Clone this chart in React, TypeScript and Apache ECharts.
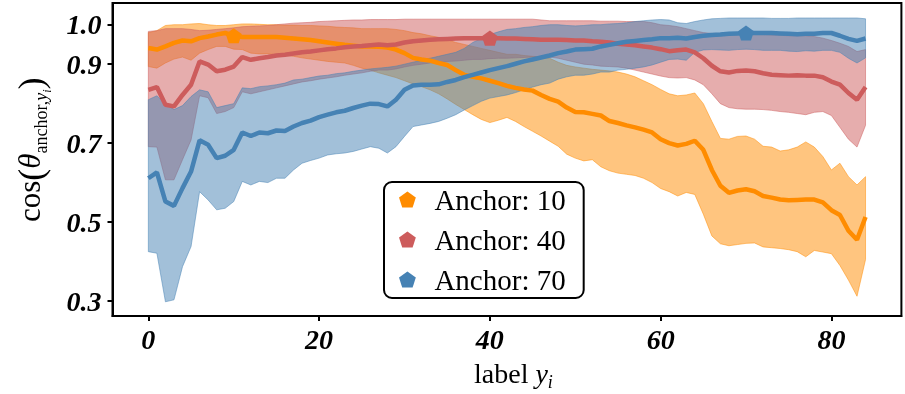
import React, { useEffect, useRef } from 'react';
import * as echarts from 'echarts';

// ---------- data ----------
const xValues = Array.from({ length: 85 }, (_, i) => i);

const orangeMean = [
  0.941, 0.937, 0.945, 0.954, 0.960, 0.958, 0.966, 0.970, 0.975, 0.979,
  0.972, 0.969, 0.969, 0.969, 0.969, 0.969, 0.967, 0.965, 0.963, 0.961,
  0.958, 0.955, 0.952, 0.949, 0.947, 0.945, 0.945, 0.944, 0.942, 0.937,
  0.928, 0.916, 0.912, 0.909, 0.903, 0.898, 0.885, 0.873, 0.868, 0.864,
  0.858, 0.852, 0.845, 0.840, 0.836, 0.833, 0.822, 0.812, 0.805, 0.790,
  0.779, 0.778, 0.774, 0.770, 0.756, 0.751, 0.745, 0.740, 0.734, 0.727,
  0.710, 0.700, 0.694, 0.698, 0.706, 0.683, 0.632, 0.592, 0.574, 0.580,
  0.583, 0.578, 0.566, 0.562, 0.557, 0.555, 0.556, 0.557, 0.557, 0.550,
  0.530, 0.518, 0.478, 0.455, 0.513,
];
const orangeUpper = [
  0.980, 0.985, 0.998, 1.000, 1.000, 1.002, 1.003, 1.000, 0.998, 0.998,
  1.000, 1.002, 1.002, 1.001, 1.000, 1.000, 0.999, 0.999, 0.998, 0.998,
  0.997, 0.996, 0.994, 0.993, 0.992, 0.990, 0.990, 0.990, 0.990, 0.988,
  0.985, 0.980, 0.977, 0.972, 0.968, 0.962, 0.955, 0.950, 0.945, 0.940,
  0.935, 0.930, 0.925, 0.925, 0.922, 0.920, 0.918, 0.915, 0.905, 0.897,
  0.893, 0.890, 0.887, 0.885, 0.883, 0.880, 0.875, 0.868, 0.858, 0.848,
  0.836, 0.825, 0.820, 0.822, 0.827, 0.800, 0.755, 0.712, 0.710, 0.717,
  0.718, 0.710, 0.692, 0.690, 0.680, 0.683, 0.690, 0.703, 0.690, 0.666,
  0.632, 0.649, 0.615, 0.594, 0.615,
];
const orangeLower = [
  0.894, 0.890, 0.903, 0.913, 0.918, 0.910, 0.928, 0.937, 0.945, 0.945,
  0.938, 0.937, 0.928, 0.926, 0.926, 0.924, 0.922, 0.920, 0.916, 0.913,
  0.910, 0.907, 0.905, 0.903, 0.897, 0.890, 0.885, 0.878, 0.872, 0.866,
  0.858, 0.850, 0.843, 0.835, 0.825, 0.812, 0.798, 0.785, 0.772, 0.760,
  0.752, 0.758, 0.765, 0.755, 0.742, 0.730, 0.718, 0.705, 0.692, 0.672,
  0.662, 0.655, 0.658, 0.640, 0.630, 0.624, 0.621, 0.618, 0.611, 0.600,
  0.585, 0.577, 0.566, 0.575, 0.570, 0.520, 0.465, 0.445, 0.440, 0.443,
  0.446, 0.447, 0.437, 0.435, 0.433, 0.430, 0.425, 0.412, 0.428, 0.424,
  0.420, 0.390, 0.353, 0.312, 0.405,
];

const redMean = [
  0.835, 0.842, 0.797, 0.793, 0.822, 0.848, 0.907, 0.899, 0.882, 0.886,
  0.894, 0.918, 0.911, 0.915, 0.918, 0.922, 0.924, 0.927, 0.930, 0.932,
  0.935, 0.938, 0.940, 0.943, 0.945, 0.946, 0.948, 0.950, 0.948, 0.950,
  0.955, 0.958, 0.960, 0.962, 0.963, 0.964, 0.965, 0.966, 0.966, 0.966,
  0.966, 0.966, 0.965, 0.965, 0.964, 0.963, 0.962, 0.962, 0.962, 0.961,
  0.960, 0.960, 0.958, 0.957, 0.955, 0.952, 0.950, 0.948, 0.945, 0.942,
  0.938, 0.933, 0.935, 0.937, 0.930, 0.915, 0.896, 0.882, 0.879, 0.883,
  0.884, 0.882, 0.877, 0.873, 0.872, 0.871, 0.872, 0.871, 0.871, 0.867,
  0.856, 0.848, 0.827, 0.810, 0.842,
];
const redUpper = [
  0.983, 0.985, 0.990, 0.990, 0.990, 0.988, 0.985, 0.986, 0.988, 0.990,
  0.992, 0.995, 0.996, 0.997, 0.998, 1.000, 1.002, 1.004, 1.005, 1.006,
  1.008, 1.009, 1.010, 1.011, 1.012, 1.012, 1.013, 1.013, 1.013, 1.013,
  1.014, 1.014, 1.014, 1.014, 1.014, 1.014, 1.014, 1.014, 1.014, 1.014,
  1.014, 1.014, 1.014, 1.014, 1.014, 1.014, 1.012, 1.010, 1.010, 1.010,
  1.010, 1.010, 1.010, 1.009, 1.009, 1.009, 1.008, 1.008, 1.008, 1.005,
  1.000, 0.998, 0.995, 0.990, 0.985, 0.980, 0.978, 0.978, 0.977, 0.976,
  0.975, 0.975, 0.975, 0.974, 0.973, 0.972, 0.972, 0.972, 0.970, 0.966,
  0.960, 0.953, 0.945, 0.932, 0.937,
];
const redLower = [
  0.691, 0.690, 0.607, 0.607, 0.658, 0.708, 0.820, 0.815, 0.775, 0.780,
  0.790, 0.830, 0.825, 0.830, 0.835, 0.840, 0.845, 0.850, 0.855, 0.858,
  0.862, 0.865, 0.868, 0.872, 0.875, 0.878, 0.882, 0.885, 0.885, 0.888,
  0.893, 0.897, 0.900, 0.903, 0.905, 0.907, 0.908, 0.910, 0.912, 0.912,
  0.914, 0.915, 0.915, 0.916, 0.917, 0.918, 0.918, 0.918, 0.915, 0.910,
  0.905, 0.900, 0.898, 0.895, 0.894, 0.893, 0.890, 0.885, 0.880, 0.875,
  0.870, 0.866, 0.865, 0.866, 0.860, 0.848, 0.825, 0.800, 0.790, 0.787,
  0.786, 0.786, 0.785, 0.783, 0.780, 0.778, 0.775, 0.772, 0.778, 0.780,
  0.770, 0.740, 0.710, 0.690, 0.745,
];

const blueMean = [
  0.611, 0.626, 0.552, 0.541, 0.586, 0.628, 0.707, 0.696, 0.662, 0.668,
  0.683, 0.727, 0.718, 0.727, 0.725, 0.732, 0.731, 0.742, 0.751, 0.757,
  0.766, 0.772, 0.778, 0.782, 0.789, 0.795, 0.800, 0.799, 0.793, 0.810,
  0.835, 0.846, 0.848, 0.848, 0.849, 0.855, 0.860, 0.867, 0.873, 0.879,
  0.885, 0.890, 0.895, 0.901, 0.907, 0.912, 0.917, 0.922, 0.928, 0.932,
  0.937, 0.938, 0.939, 0.945, 0.949, 0.953, 0.957, 0.959, 0.961, 0.963,
  0.966, 0.966, 0.967, 0.965, 0.969, 0.972, 0.974, 0.975, 0.977, 0.978,
  0.979, 0.979, 0.979, 0.979, 0.978, 0.977, 0.976, 0.977, 0.977, 0.979,
  0.979, 0.972, 0.964, 0.959, 0.965,
];
const blueUpper = [
  0.810, 0.820, 0.800, 0.785, 0.795, 0.818, 0.835, 0.830, 0.790, 0.795,
  0.800, 0.840, 0.838, 0.843, 0.845, 0.848, 0.852, 0.860, 0.862, 0.866,
  0.870, 0.872, 0.876, 0.878, 0.882, 0.885, 0.888, 0.890, 0.892, 0.895,
  0.900, 0.905, 0.910, 0.915, 0.920, 0.925, 0.930, 0.940, 0.955, 0.965,
  0.975, 0.982, 0.988, 0.990, 0.993, 0.995, 0.998, 1.000, 1.000, 0.998,
  0.997, 0.998, 1.000, 1.000, 1.002, 1.003, 1.005, 1.008, 1.010, 1.012,
  1.013, 1.012, 1.005, 1.003, 1.008, 1.012, 1.015, 1.016, 1.017, 1.017,
  1.017, 1.017, 1.017, 1.016, 1.016, 1.016, 1.017, 1.017, 1.017, 1.017,
  1.017, 1.017, 1.017, 1.017, 1.015,
];
const blueLower = [
  0.425, 0.421, 0.298, 0.303, 0.387, 0.438, 0.577, 0.556, 0.531, 0.535,
  0.552, 0.603, 0.594, 0.603, 0.600, 0.611, 0.611, 0.632, 0.649, 0.656,
  0.662, 0.670, 0.673, 0.675, 0.679, 0.685, 0.691, 0.687, 0.675, 0.691,
  0.717, 0.742, 0.746, 0.750, 0.755, 0.763, 0.772, 0.784, 0.795, 0.806,
  0.814, 0.818, 0.822, 0.828, 0.835, 0.842, 0.848, 0.852, 0.862, 0.868,
  0.872, 0.872, 0.875, 0.880, 0.880, 0.885, 0.887, 0.890, 0.893, 0.898,
  0.905, 0.912, 0.913, 0.910, 0.930, 0.936, 0.937, 0.936, 0.935, 0.937,
  0.938, 0.937, 0.935, 0.935, 0.935, 0.933, 0.932, 0.934, 0.933, 0.935,
  0.935, 0.930, 0.915, 0.903, 0.916,
];

const xTicks = [0, 20, 40, 60, 80];
const yTicks = [0.3, 0.5, 0.7, 0.9, 1.0];
const anchors = [10, 40, 70];
const seriesNames = ['Anchor: 10', 'Anchor: 40', 'Anchor: 70'];
const colors = ['#FF8C00', '#CD5C5C', '#4682B4'];

const PENT = 'path://M0,-1L0.9511,-0.309L0.5878,0.809L-0.5878,0.809L-0.9511,-0.309Z';
const SERIF = 'Liberation Serif';

export default function App() {
  const ref = useRef<HTMLDivElement>(null);

  useEffect(() => {
    if (!ref.current) return;
    const chart = echarts.init(ref.current, undefined, { renderer: 'svg' });

    const bands = [
      { name: seriesNames[0], mean: orangeMean, upper: orangeUpper, lower: orangeLower, color: colors[0], anchor: anchors[0] },
      { name: seriesNames[1], mean: redMean, upper: redUpper, lower: redLower, color: colors[1], anchor: anchors[1] },
      { name: seriesNames[2], mean: blueMean, upper: blueUpper, lower: blueLower, color: colors[2], anchor: anchors[2] },
    ];

    const series: any[] = [];
    bands.forEach((b, k) => {
      series.push({
        type: 'custom', name: 'band' + k, silent: true, z: 2,
        data: xValues.map((x, i) => [x, b.lower[i], b.upper[i]]),
        encode: { x: 0, y: [1, 2] },
        renderItem: (params: any, api: any) => {
          if (params.dataIndex !== 0) return null;
          const top = xValues.map((x, i) => api.coord([x, b.upper[i]]));
          const bot = xValues.map((x, i) => api.coord([x, b.lower[i]])).reverse();
          return {
            type: 'polygon',
            shape: { points: top.concat(bot) },
            style: { fill: b.color, opacity: 0.5, stroke: b.color, lineWidth: 1 },
          };
        },
      });
    });
    bands.forEach((b) => {
      series.push({
        type: 'line', name: b.name, symbol: 'none', z: 3,
        data: xValues.map((x, i) => [x, b.mean[i]]),
        lineStyle: { color: b.color, width: 4.5 },
        itemStyle: { color: b.color },
      });
    });
    bands.forEach((b, k) => {
      series.push({
        type: 'scatter', name: 'mk' + k, z: 4, symbol: PENT, symbolSize: [16, 15.2],
        data: [[b.anchor, b.mean[b.anchor]]],
        itemStyle: { color: b.color, opacity: 1 },
      });
    });

    const ctx = document.createElement('canvas').getContext('2d')!;
    const measure = (t: string, size: number, style: string) => {
      ctx.font = `${style} ${size}px "Liberation Serif"`;
      return ctx.measureText(t).width;
    };
    const makeRun = (parts: { text: string; size: number; style: string; dy: number }[]) => {
      let cx = 0;
      return parts.map((p) => {
        const el = {
          type: 'text',
          x: cx,
          y: p.dy - 0.3375 * p.size,
          style: {
            text: p.text, fill: '#000', fontSize: p.size, fontFamily: SERIF,
            fontStyle: p.style, fontWeight: 'normal', align: 'left', verticalAlign: 'middle',
          },
        };
        cx += measure(p.text, p.size, p.style);
        return el;
      });
    };

    const yTitle = makeRun([
      { text: 'cos', size: 31, style: 'normal', dy: 0 },
      { text: '(', size: 36, style: 'normal', dy: 3 },
      { text: 'θ', size: 31, style: 'italic', dy: 0 },
      { text: 'anchor,', size: 18, style: 'normal', dy: 7 },
      { text: 'y', size: 18, style: 'italic', dy: 7 },
      { text: 'i', size: 12, style: 'italic', dy: 11 },
      { text: ')', size: 36, style: 'normal', dy: 3 },
    ]);
    const xTitle = makeRun([
      { text: 'label ', size: 28, style: 'normal', dy: 0 },
      { text: 'y', size: 28, style: 'italic', dy: 0 },
      { text: 'i', size: 18, style: 'italic', dy: 5 },
    ]);

    const tickFont = { color: '#000', fontFamily: SERIF, fontStyle: 'italic', fontWeight: 'bold', fontSize: 28 } as any;

    chart.setOption({
      animation: false,
      grid: { left: 112.5, right: 3.6, top: 3, bottom: 78, show: true, borderColor: '#000', borderWidth: 2, backgroundColor: 'transparent' },
      xAxis: {
        type: 'value', min: -4.2, max: 88.2,
        splitLine: { show: false },
        axisLine: { show: true, onZero: false, lineStyle: { color: '#000', width: 2 } },
        axisTick: { show: true, customValues: xTicks, length: 5, lineStyle: { color: '#000', width: 2 } },
        axisLabel: { customValues: xTicks, margin: 9, ...tickFont },
      },
      yAxis: {
        type: 'value', min: 0.262, max: 1.055,
        splitLine: { show: false },
        axisLine: { show: true, onZero: false, lineStyle: { color: '#000', width: 2 } },
        axisTick: { show: true, customValues: yTicks, length: 5, lineStyle: { color: '#000', width: 2 } },
        axisLabel: { customValues: yTicks, margin: 11, formatter: (v: number) => v.toFixed(1), ...tickFont },
      },
      legend: {
        data: bands.map((b) => ({ name: b.name, icon: PENT })),
        orient: 'vertical', left: 384, top: 182,
        padding: [3, 18, 4, 15], itemGap: 11, itemWidth: 18, itemHeight: 16,
        backgroundColor: '#fff', borderColor: '#000', borderWidth: 2, borderRadius: 8,
        selectedMode: false,
        itemStyle: { borderWidth: 0 },
        textStyle: { fontFamily: SERIF, fontSize: 29, color: '#000', lineHeight: 28, padding: [0, 0, 0, 13] },
      },
      graphic: [
        { type: 'group', x: 40, y: 222, rotation: Math.PI / 2, children: yTitle, silent: true },
        { type: 'group', x: 474, y: 383, children: xTitle, silent: true },
      ],
      series,
    });

    return () => chart.dispose();
  }, []);

  return <div ref={ref} style={{ position: 'fixed', left: 0, top: 0, width: 905, height: 394 }} />;
}
